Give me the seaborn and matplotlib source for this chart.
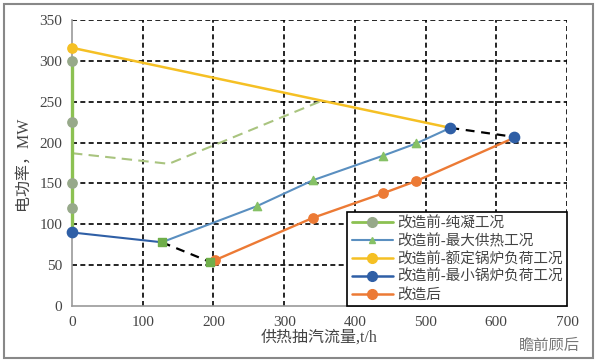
"""Power output vs. heating extraction flow, before/after retrofit."""

import matplotlib
matplotlib.use("Agg")
import matplotlib.pyplot as plt
import seaborn as sns
from matplotlib.patches import Rectangle

# Data
pure_x = [0, 0, 0, 0, 0]
pure_y = [300, 225, 150, 120, 90]

maxheat_x = [127, 261, 341, 440, 487, 535]
maxheat_y = [78, 122, 154, 184, 199, 218]

rated_x = [0, 535]
rated_y = [316, 218]

minload_x = [0, 127]
minload_y = [90, 78]

after_x = [202, 341, 440, 487, 623]
after_y = [56, 108, 138, 153, 205]

guide_x = [0, 137, 350]
guide_y = [187, 174, 250]

link_low_x = [127, 195]
link_low_y = [78, 54]
link_high_x = [535, 625]
link_high_y = [218, 207]

blue_pt_x = [0, 535, 625]
blue_pt_y = [90, 218, 207]

xticks = [0, 100, 200, 300, 400, 500, 600, 700]
yticks = [0, 50, 100, 150, 200, 250, 300, 350]

labels = ["改造前-纯凝工况", "改造前-最大供热工况", "改造前-额定锅炉负荷工况",
          "改造前-最小锅炉负荷工况", "改造后"]

C_GREEN = "#8cc152"
C_GREEN_MK = "#97a98a"
C_STEEL = "#5a8fc0"
C_TRI = "#86c166"
C_YELLOW = "#f5c024"
C_NAVY = "#2f5fa6"
C_ORANGE = "#ec7a35"
C_DASH = "#a9c47f"

sns.set_style("white")
plt.rcParams["font.family"] = ["Liberation Serif", "Noto Sans CJK SC"]
plt.rcParams["axes.unicode_minus"] = False

fig, ax = plt.subplots(figsize=(6.0, 3.62), dpi=100)
fig.subplots_adjust(left=72 / 600, right=567 / 600, top=1 - 20 / 362, bottom=1 - 306 / 362)

# light green dashed guide
sns.lineplot(x=guide_x, y=guide_y, sort=False, estimator=None, color=C_DASH,
             lw=1.5, linestyle=(0, (5, 3)), ax=ax, zorder=3)

# black dashed links
for lx, ly in [(link_low_x, link_low_y), (link_high_x, link_high_y)]:
    sns.lineplot(x=lx, y=ly, sort=False, estimator=None, color="black", lw=1.6,
                 linestyle=(0, (4, 3)), ax=ax, zorder=3)

sns.lineplot(x=rated_x, y=rated_y, sort=False, estimator=None, color=C_YELLOW,
             lw=1.8, ax=ax, zorder=4)
ax.scatter(rated_x[:1], rated_y[:1], s=45, color=C_YELLOW, zorder=6, clip_on=False)

sns.lineplot(x=maxheat_x, y=maxheat_y, sort=False, estimator=None, color=C_STEEL,
             lw=1.5, ax=ax, zorder=4)
ax.scatter(maxheat_x[1:-1], maxheat_y[1:-1], marker="^", s=35, color=C_TRI,
           zorder=6)

sns.lineplot(x=after_x, y=after_y, sort=False, estimator=None, color=C_ORANGE,
             lw=1.7, ax=ax, zorder=4)
ax.scatter(after_x[:-1], after_y[:-1], s=45, color=C_ORANGE, zorder=6)

# vertical pure-condensing line: estimator=None so repeated x is not averaged
sns.lineplot(x=pure_x, y=pure_y, sort=False, estimator=None, color=C_GREEN,
             lw=2.4, ax=ax, zorder=5, clip_on=False)
ax.scatter(pure_x[:-1], pure_y[:-1], s=45, color=C_GREEN_MK, zorder=6, clip_on=False)

sns.lineplot(x=minload_x, y=minload_y, sort=False, estimator=None, color=C_NAVY,
             lw=1.5, ax=ax, zorder=4)
ax.scatter(blue_pt_x, blue_pt_y, s=55, color=C_NAVY, zorder=7, clip_on=False)
ax.scatter(link_low_x, link_low_y, marker="s", s=40, color="#6fae4a", zorder=7)

ax.set_xlim(0, 700)
ax.set_ylim(0, 350)
ax.set_xticks(xticks)
ax.set_yticks(yticks)
ax.tick_params(length=0, labelsize=11, pad=7, colors="#444444")

ax.grid(True, color="black", linestyle=(0, (3, 2)), lw=1.2)
ax.get_xgridlines()[0].set_visible(False)
ax.get_ygridlines()[0].set_visible(False)
for side in ["top", "right"]:
    ax.spines[side].set_visible(False)
for side in ["left", "bottom"]:
    ax.spines[side].set_color("#999999")
    ax.spines[side].set_linewidth(1.2)
    ax.spines[side].set_zorder(1)

ax.set_xlabel("供热抽汽流量,t/h", fontsize=11.5, color="#444444", labelpad=1)
ax.set_ylabel("电功率，MW", fontsize=11.5, color="#444444", labelpad=6)

# legend
handles = [
    plt.Line2D([], [], color=C_GREEN, lw=2, marker="o", ms=7, mfc=C_GREEN_MK, mec=C_GREEN_MK),
    plt.Line2D([], [], color=C_STEEL, lw=1.5, marker="^", ms=4, mfc=C_TRI, mec=C_TRI),
    plt.Line2D([], [], color=C_YELLOW, lw=1.8, marker="o", ms=7, mfc=C_YELLOW, mec=C_YELLOW),
    plt.Line2D([], [], color=C_NAVY, lw=1.8, marker="o", ms=7, mfc=C_NAVY, mec=C_NAVY),
    plt.Line2D([], [], color=C_ORANGE, lw=1.8, marker="o", ms=7, mfc=C_ORANGE, mec=C_ORANGE),
]
leg = ax.legend(handles, labels, loc="lower right", bbox_to_anchor=(1.0, 0.0),
                fontsize=10.5, frameon=True, fancybox=False, framealpha=1,
                edgecolor="black", borderpad=0.3, labelspacing=0.25,
                handlelength=2.8, handletextpad=0.3, borderaxespad=0)
leg.get_frame().set_linewidth(1.2)
leg.set_zorder(10)
for t in leg.get_texts():
    t.set_color("#444444")

# watermark and outer frame
fig.text(0.915, 0.045, "瞻前顾后", fontsize=11, color="#777777",
         family=["Noto Sans CJK SC"], ha="center", va="center")
fig.patches.append(Rectangle((4 / 600, 4 / 362), 589 / 600, 354 / 362,
                             transform=fig.transFigure, fill=False,
                             edgecolor="#888888", lw=1.5))

fig.savefig("out.png", dpi=100)
